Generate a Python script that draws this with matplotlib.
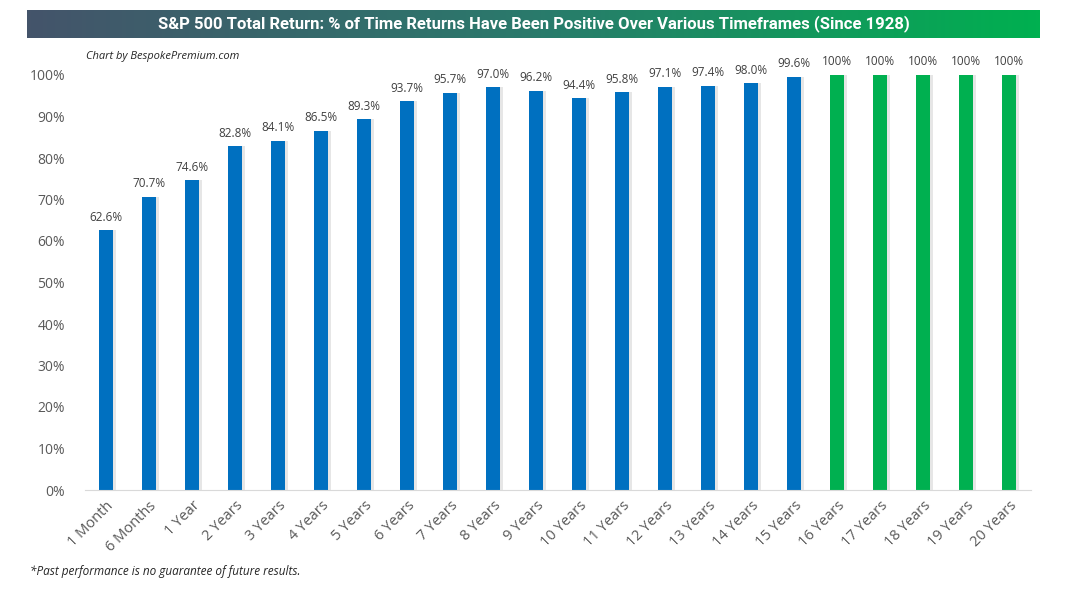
import numpy as np
import matplotlib
matplotlib.use("Agg")
import matplotlib.pyplot as plt
from matplotlib.colors import LinearSegmentedColormap

# Data
periods = ['1 Month', '6 Months', '1 Year'] + [f'{n} Years' for n in range(2, 21)]
pct_positive = [62.6, 70.7, 74.6, 82.8, 84.1, 86.5, 89.3, 93.7, 95.7, 97.0, 96.2,
                94.4, 95.8, 97.1, 97.4, 98.0, 99.6, 100, 100, 100, 100, 100]
y_ticks = [0, 10, 20, 30, 40, 50, 60, 70, 80, 90, 100]

BLUE = '#0070c0'
GREEN = '#00b050'
GRAY = '#595959'

plt.rcParams['font.family'] = ['Open Sans', 'DejaVu Sans']

fig = plt.figure(figsize=(10.8, 6.04), dpi=100)
fig.patch.set_facecolor('white')

# Title banner with gradient
bax = fig.add_axes([27 / 1080, 1 - 38 / 604, (1040 - 27) / 1080, 28 / 604])
cmap = LinearSegmentedColormap.from_list('banner', ['#44546a', '#2a7a6c', GREEN])
bax.imshow(np.linspace(0, 1, 256)[None, :], aspect='auto', cmap=cmap, extent=[0, 1, 0, 1])
bax.set_axis_off()
bax.text(0.5, 0.5, 'S&P 500 Total Return: % of Time Returns Have Been Positive Over Various Timeframes (Since 1928)',
         ha='center', va='center', color='white', fontsize=12, fontweight='bold',
         family=['Roboto', 'DejaVu Sans'])

# Main chart
ax = fig.add_axes([84.5 / 1080, 114 / 604, (1030.5 - 84.5) / 1080, 415 / 604])
x = np.arange(len(periods))
colors = [GREEN if v >= 100 else BLUE for v in pct_positive]

# soft shadow behind bars
ax.bar(x + 0.06, pct_positive, width=0.34, color='#b8b8b8', alpha=0.35, zorder=1)
ax.bar(x, pct_positive, width=0.33, color=colors, zorder=2)

for xi, v in zip(x, pct_positive):
    label = '100%' if v >= 100 else f'{v:.1f}%'
    ax.text(xi, v + 1.6, label, ha='center', va='bottom', fontsize=8.5, color='#404040')

ax.set_xlim(-0.5, len(periods) - 0.5)
ax.set_ylim(0, 100)
ax.set_yticks(y_ticks)
ax.set_yticklabels([f'{t}%' for t in y_ticks])
ax.set_xticks(x)
ax.set_xticklabels(periods, rotation=45, ha='right', rotation_mode='anchor')
ax.tick_params(axis='both', length=0, colors=GRAY, labelsize=10)
ax.tick_params(axis='x', labelsize=10.5)
ax.tick_params(axis='y', pad=14)
ax.tick_params(axis='x', pad=6)
for side in ['top', 'right', 'left']:
    ax.spines[side].set_visible(False)
ax.spines['bottom'].set_color('#d9d9d9')

fig.text(86 / 1080, 1 - 56 / 604, 'Chart by BespokePremium.com', fontsize=8, style='italic',
         color='#262626', va='center')
fig.text(30 / 1080, 1 - 571 / 604, '*Past performance is no guarantee of future results.',
         fontsize=8.5, style='italic', color='#262626', va='center')

fig.savefig('out.png', dpi=100)
